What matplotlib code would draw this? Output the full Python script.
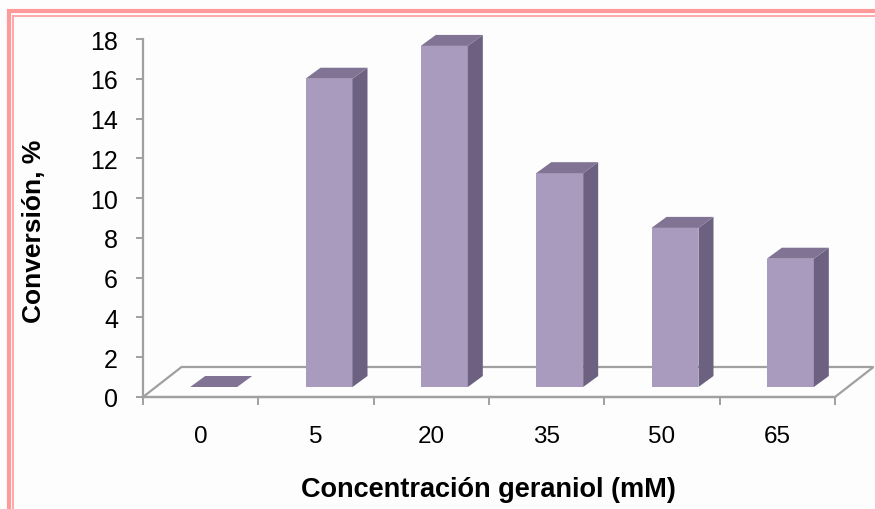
import matplotlib
matplotlib.use("Agg")
import matplotlib.pyplot as plt
from matplotlib.patches import Polygon
from matplotlib.lines import Line2D

plt.rcParams['font.family'] = ['Liberation Sans', 'DejaVu Sans']

categories = ['0', '5', '20', '35', '50', '65']
values = [0.0, 15.5, 17.15, 10.75, 8.0, 6.45]
yticks = [0, 2, 4, 6, 8, 10, 12, 14, 16, 18]
xlabel = 'Concentración geraniol (mM)'
ylabel = 'Conversión, %'

FRONT = '#A99BBE'
TOP = '#807393'
SIDE = '#6C6180'
AXC = '#A0A0A0'
PINK = '#FF9A9A'

W, H = 875, 510
fig = plt.figure(figsize=(W / 100, H / 100), dpi=100)
fig.patch.set_facecolor('#FDFDFD')

x0, x1, y0, y1 = 143, 835, 398, 40
ax = fig.add_axes([x0 / W, 1 - y0 / H, (x1 - x0) / W, (y0 - y1) / H])
ax.set_facecolor('none')
n = len(categories)
ax.set_xlim(0, n)
ax.set_ylim(0, 18)

# oblique depth offsets (data units)
cat_px = (x1 - x0) / n
val_px = (y0 - y1) / 18
fdx, fdy = 38.5 / cat_px, 30 / val_px          # floor depth
bdx0, bdy0 = 13 / cat_px, 10 / val_px          # bar front offset
bdx, bdy = 15 / cat_px, 11 / val_px            # bar depth
bw = 47 / cat_px                               # bar width

# floor outline
floor = Polygon([(0, 0), (n, 0), (n + fdx, fdy), (fdx, fdy)], closed=True,
                fill=False, edgecolor=AXC, lw=1.6, clip_on=False, zorder=1)
ax.add_patch(floor)

for i, v in enumerate(values):
    cx = i + 0.5 + bdx0
    l, r = cx - bw / 2, cx + bw / 2
    b = bdy0
    t = bdy0 + v
    z = 3
    if v > 0:
        ax.add_patch(Polygon([(l, b), (r, b), (r, t), (l, t)], closed=True,
                             facecolor=FRONT, edgecolor='none', clip_on=False, zorder=z))
        ax.add_patch(Polygon([(r, b), (r + bdx, b + bdy), (r + bdx, t + bdy), (r, t)],
                             closed=True, facecolor=SIDE, edgecolor='none',
                             clip_on=False, zorder=z))
    ax.add_patch(Polygon([(l, t), (r, t), (r + bdx, t + bdy), (l + bdx, t + bdy)],
                         closed=True, facecolor=TOP, edgecolor='none',
                         clip_on=False, zorder=z))

# axes styling
for s in ['top', 'right']:
    ax.spines[s].set_visible(False)
for s in ['left', 'bottom']:
    ax.spines[s].set_color(AXC)
    ax.spines[s].set_linewidth(1.6)
    ax.spines[s].set_zorder(5)

ax.set_yticks(yticks)
ax.set_yticklabels([str(t) for t in yticks], fontsize=18, color='black')
ax.tick_params(axis='y', direction='out', length=5, width=1.4, color=AXC, pad=13)

ax.set_xticks(range(n + 1))
ax.set_xticklabels([''] * (n + 1))
ax.set_xticks([i + 0.5 for i in range(n)], minor=True)
ax.set_xticklabels(categories, minor=True, fontsize=17.5, color='black')
ax.tick_params(axis='x', which='major', direction='out', length=6, width=1.4, color=AXC)
ax.tick_params(axis='x', which='minor', length=0, pad=20)

fig.text(488 / W, 1 - 490 / H, xlabel, ha='center', va='center',
         fontsize=19.5, fontweight='bold')
fig.text(34 / W, 1 - 231 / H, ylabel, ha='center', va='center',
         rotation=90, fontsize=19, fontweight='bold')

# pink double border (top and left)
def fl(xa, ya, xb, yb, lw):
    fig.add_artist(Line2D([xa / W, xb / W], [1 - ya / H, 1 - yb / H],
                          transform=fig.transFigure, color=PINK, lw=lw,
                          solid_capstyle='butt'))

fl(7, 12, W, 12, 3.0)
fl(13, 16.5, W, 16.5, 1.2)
fl(8.8, 10, 8.8, H, 3.0)
fl(13.3, 15.5, 13.3, H, 1.2)

fig.savefig('out.png', dpi=100, facecolor=fig.get_facecolor())
